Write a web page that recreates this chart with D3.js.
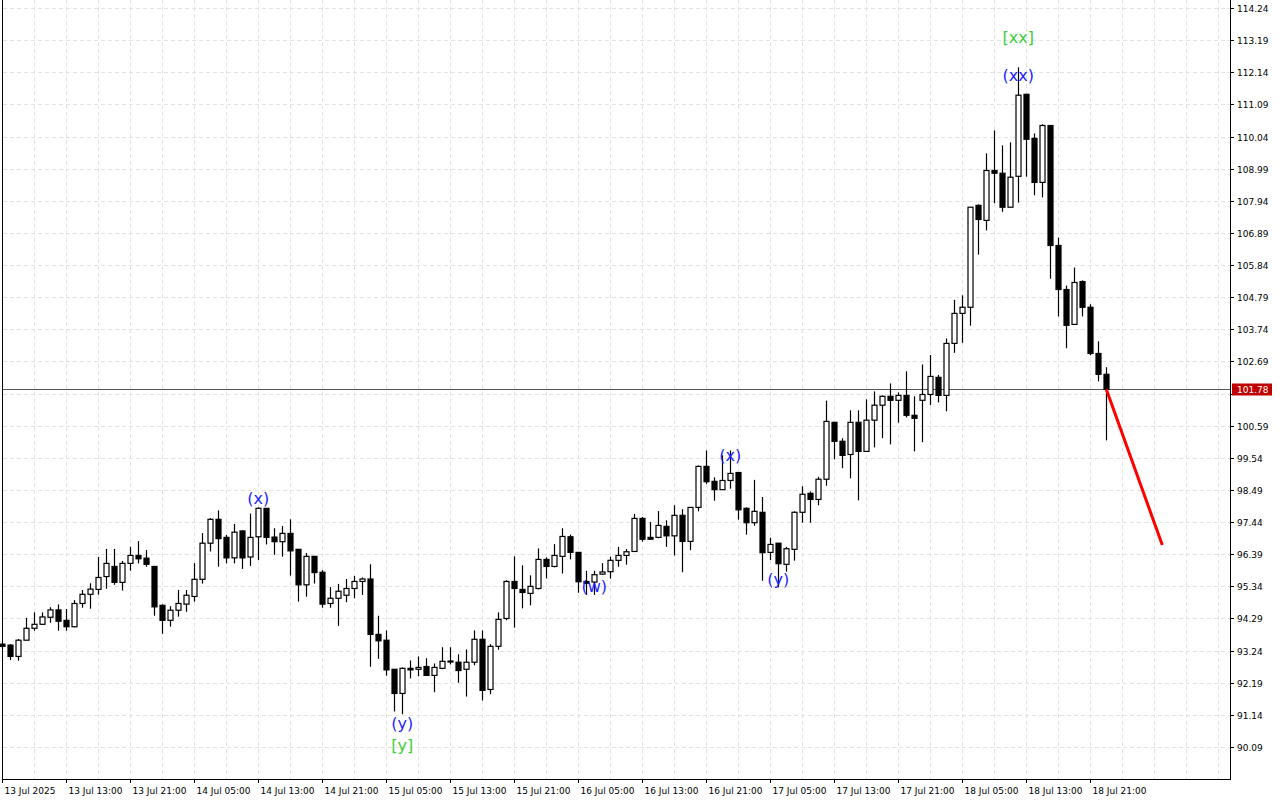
<!DOCTYPE html>
<html><head><meta charset="utf-8">
<script src="https://cdn.jsdelivr.net/npm/d3@7"></script>
<style>body{margin:0;background:#fff}svg{display:block}</style>
</head><body><svg id="c" width="1280" height="800"></svg>
<script>
const opens=[93.45,93.42,93.05,93.58,93.97,94.10,94.33,94.57,94.23,94.02,94.78,95.08,95.24,95.66,95.99,95.47,96.09,96.35,96.26,95.99,94.72,94.23,94.56,94.76,95.01,95.57,96.75,97.53,96.94,96.27,97.15,96.30,96.96,97.89,96.95,96.80,97.07,96.55,95.39,96.32,95.80,94.78,94.95,95.05,95.27,95.50,95.58,93.77,93.58,92.63,91.84,92.66,92.63,92.72,92.43,92.66,92.88,92.86,92.63,92.86,93.61,91.97,93.38,94.29,95.50,95.24,95.11,95.27,96.22,95.99,96.32,96.96,96.45,95.50,95.48,95.74,95.82,96.19,96.35,96.48,97.56,96.94,96.94,97.30,96.99,97.66,96.81,97.92,99.26,98.77,98.50,98.80,99.06,97.89,97.42,97.76,96.45,96.75,96.06,96.55,97.76,98.38,98.18,98.84,100.70,100.08,99.65,100.70,99.75,100.77,101.26,101.55,101.42,101.58,100.93,101.42,101.61,102.17,101.58,103.28,104.26,104.46,107.79,107.30,108.93,108.84,107.73,108.74,111.42,109.98,108.54,110.40,106.48,105.04,103.90,105.30,104.46,102.95,102.27];
const highs=[93.50,93.45,93.62,94.31,94.49,94.49,94.66,94.75,94.60,94.89,95.22,95.44,96.30,96.56,96.56,96.17,96.63,96.82,96.53,96.01,94.75,94.69,95.22,95.22,96.10,97.08,97.57,97.82,97.02,97.38,97.18,97.72,97.92,97.89,97.24,97.31,97.53,96.55,96.43,96.32,95.87,95.32,95.42,95.58,95.68,95.63,96.06,94.38,93.90,92.63,92.69,92.92,93.05,92.99,92.82,93.35,93.35,93.12,93.28,93.90,93.90,93.45,94.49,95.54,96.32,96.03,95.70,96.58,96.29,96.72,97.24,97.03,96.45,95.85,95.85,96.10,96.31,96.63,96.56,97.71,97.61,97.44,97.80,97.50,97.99,97.86,97.92,99.29,99.78,98.90,99.62,99.78,99.06,97.92,98.82,98.26,96.93,96.75,96.63,97.79,98.61,98.44,98.92,101.41,100.70,100.18,101.09,101.09,101.45,101.71,101.58,101.97,101.68,102.37,101.55,102.59,102.90,102.25,103.44,104.70,104.85,107.73,107.82,109.49,110.24,109.75,109.85,112.30,111.42,110.14,110.44,110.40,106.74,105.17,105.76,105.34,104.56,103.35,102.50];
const lows=[93.30,92.93,92.91,93.58,93.89,94.08,94.15,93.89,93.89,94.00,94.64,94.61,95.07,95.26,95.39,95.20,95.85,96.09,95.98,94.38,93.79,94.02,94.35,94.51,94.84,95.43,96.48,95.98,96.09,96.09,95.91,96.01,96.20,96.71,96.37,96.31,95.69,94.84,95.00,95.43,94.64,94.64,94.05,94.82,94.95,95.06,92.71,92.97,92.42,91.25,91.16,92.33,92.40,92.43,91.88,92.63,92.79,92.19,91.74,92.76,91.61,91.81,93.27,94.23,93.99,94.62,94.72,95.24,95.60,95.96,95.76,96.22,95.13,95.06,95.06,95.71,95.59,95.98,96.05,96.48,96.80,96.88,96.91,96.63,96.35,95.80,96.52,97.79,98.69,98.14,98.50,98.53,97.52,97.03,97.32,95.52,96.20,95.31,95.82,96.18,97.42,97.42,97.99,98.63,99.49,99.20,98.87,98.15,99.75,99.88,100.18,99.98,100.69,100.86,99.75,100.05,101.26,101.35,101.06,102.97,103.30,103.86,106.18,106.97,107.86,107.58,107.73,107.88,108.73,108.12,108.05,105.39,104.16,103.12,103.90,104.16,102.89,102.04,100.11];
const closes=[93.38,93.05,93.58,93.97,94.10,94.34,94.57,94.20,94.02,94.78,95.08,95.25,95.63,96.09,95.47,96.09,96.35,96.24,96.06,94.67,94.23,94.56,94.78,95.05,95.57,96.75,97.53,96.90,96.27,97.11,96.27,96.94,97.89,96.94,96.80,97.07,96.50,95.39,96.32,95.79,94.76,94.95,95.18,95.27,95.50,95.58,93.77,93.56,92.61,91.84,92.66,92.61,92.69,92.43,92.69,92.89,92.90,92.59,92.86,93.61,91.94,93.38,94.26,95.50,95.27,95.14,95.34,96.22,95.99,96.35,96.97,96.45,95.49,95.44,95.72,95.81,96.19,96.35,96.47,97.56,96.88,96.88,97.33,96.99,97.66,96.81,97.92,99.26,98.76,98.50,98.80,99.03,97.84,97.42,97.79,96.44,96.71,96.08,96.57,97.76,98.35,98.18,98.84,100.73,100.08,99.62,100.70,99.75,100.77,101.26,101.55,101.42,101.58,100.93,100.83,101.61,102.20,101.58,103.28,104.26,104.46,107.73,107.33,108.93,108.84,107.73,108.71,111.39,109.95,108.54,110.40,106.48,105.04,103.87,105.27,104.46,102.95,102.27,101.78];
const priceTicks=[114.24,113.19,112.14,111.09,110.04,108.99,107.94,106.89,105.84,104.79,103.74,102.69,101.64,100.59,99.54,98.49,97.44,96.39,95.34,94.29,93.24,92.19,91.14,90.09];
const timeLabels=["13 Jul 2025","13 Jul 13:00","13 Jul 21:00","14 Jul 05:00","14 Jul 13:00","14 Jul 21:00","15 Jul 05:00","15 Jul 13:00","15 Jul 21:00","16 Jul 05:00","16 Jul 13:00","16 Jul 21:00","17 Jul 05:00","17 Jul 13:00","17 Jul 21:00","18 Jul 05:00","18 Jul 13:00","18 Jul 21:00"];
const currentPrice=101.78;
const forecastIdx=[138,145];
const forecastVal=[101.78,96.69];
const waveText=["(x)","(y)","[y]","(w)","(x)","(y)","(xx)","[xx]"];
const waveIdx=[32,50,50,74,91,97,127,127];
const waveVal=[98.22,90.87,90.15,95.35,99.60,95.58,112.02,113.26];
const waveCol=["#1f1fff","#1f1fff","#3ccf3c","#1f1fff","#1f1fff","#1f1fff","#1f1fff","#3ccf3c"];

const svg=d3.select("#c");
const x=d3.scaleLinear().domain([0,145]).range([2.3,1162.3]);
const y=d3.scaleLinear().domain([90.09,114.24]).range([747,8]);
const R=1230,B=779;
const g=svg.append("g");
for(let k=4;k<=152;k+=4){if(x(k)<R)g.append("line").attr("x1",Math.round(x(k))+0.5).attr("x2",Math.round(x(k))+0.5).attr("y1",0).attr("y2",B).attr("stroke","#e3e3e3").attr("stroke-dasharray","4,3");}
priceTicks.forEach(p=>g.append("line").attr("x1",3).attr("x2",R).attr("y1",Math.round(y(p))+0.5).attr("y2",Math.round(y(p))+0.5).attr("stroke","#e3e3e3").attr("stroke-dasharray","4,3"));
svg.append("line").attr("x1",2.5).attr("x2",2.5).attr("y1",0).attr("y2",B).attr("stroke","#000");
svg.append("line").attr("x1",2).attr("x2",R).attr("y1",B+0.5).attr("y2",B+0.5).attr("stroke","#000");
svg.append("line").attr("x1",R+0.5).attr("x2",R+0.5).attr("y1",0).attr("y2",B+1).attr("stroke","#000");
svg.append("line").attr("x1",3).attr("x2",R).attr("y1",Math.round(y(currentPrice))+0.5).attr("y2",Math.round(y(currentPrice))+0.5).attr("stroke","#555").attr("stroke-width",1);
const cg=svg.append("g");
opens.forEach((o,i)=>{
  const cx=Math.round(x(i))+0.5, c=closes[i], up=c>=o;
  cg.append("line").attr("x1",cx).attr("x2",cx).attr("y1",y(highs[i])).attr("y2",y(lows[i])).attr("stroke","#000").attr("stroke-width",1.2);
  const t=y(Math.max(o,c)), b=y(Math.min(o,c));
  cg.append("rect").attr("x",cx-2.5).attr("y",t).attr("width",5).attr("height",Math.max(1,b-t)).attr("fill",up?"#fff":"#000").attr("stroke","#000").attr("stroke-width",1.2);
});
svg.append("line").attr("x1",x(forecastIdx[0])).attr("y1",y(forecastVal[0])).attr("x2",x(forecastIdx[1])).attr("y2",y(forecastVal[1])).attr("stroke","#ff0000").attr("stroke-width",3);
waveText.forEach((t,i)=>svg.append("text").attr("x",x(waveIdx[i])).attr("y",y(waveVal[i])).attr("text-anchor","middle").attr("dominant-baseline","central").attr("font-family","DejaVu Sans, sans-serif").attr("font-size",16).attr("fill",waveCol[i]).text(t));
const py=Math.round(y(currentPrice))+0.5;
priceTicks.forEach(p=>{const yy=Math.round(y(p))+0.5;
  svg.append("line").attr("x1",R).attr("x2",R+4).attr("y1",yy).attr("y2",yy).attr("stroke","#000");
  if(Math.abs(yy-py)>8) svg.append("text").attr("x",R+7).attr("y",yy).attr("dominant-baseline","central").attr("font-family","DejaVu Sans, sans-serif").attr("font-size",9).attr("fill","#000").text(p.toFixed(2));});
svg.append("rect").attr("x",R+2).attr("y",py-6).attr("width",40).attr("height",12).attr("fill","#c00000");
svg.append("text").attr("x",R+7).attr("y",py).attr("dominant-baseline","central").attr("font-family","DejaVu Sans, sans-serif").attr("font-size",9).attr("fill","#fff").text(currentPrice.toFixed(2));
timeLabels.forEach((t,i)=>{const xx=Math.round(x(i*8))+0.5;
  svg.append("line").attr("x1",xx).attr("x2",xx).attr("y1",B).attr("y2",B+4).attr("stroke","#000");
  svg.append("text").attr("x",xx+2).attr("y",791).attr("dominant-baseline","central").attr("font-family","DejaVu Sans, sans-serif").attr("font-size",9).attr("fill","#000").text(t);});
</script></body></html>
